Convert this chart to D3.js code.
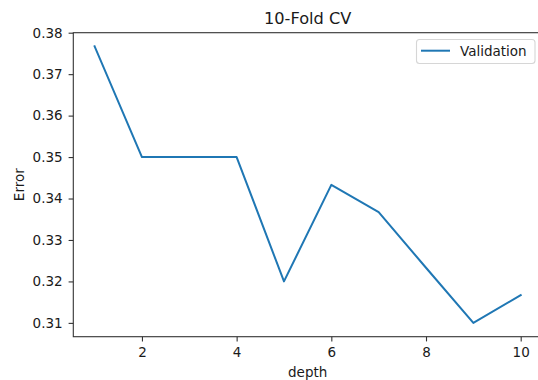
<!DOCTYPE html>
<html>
<head>
<meta charset="utf-8">
<script src="https://cdn.jsdelivr.net/npm/d3@7"></script>
<style>
  html, body { margin: 0; padding: 0; background: #fff; }
  svg { display: block; }
  text { font-family: "DejaVu Sans", sans-serif; fill: #1a1a1a; }
</style>
</head>
<body>
<svg id="chart" width="538" height="380"></svg>
<script>
const depths = [1, 2, 3, 4, 5, 6, 7, 8, 9, 10];
const validationError = [0.3767, 0.35, 0.35, 0.35, 0.32, 0.3433, 0.3367, 0.3233, 0.31, 0.3167];
const xTicks = [2, 4, 6, 8, 10];
const yTicks = [0.31, 0.32, 0.33, 0.34, 0.35, 0.36, 0.37, 0.38];
const titleText = "10-Fold CV";
const xLabel = "depth";
const yLabel = "Error";
const seriesName = "Validation";

const svg = d3.select("#chart");
const plotLeft = 73.3, plotRight = 542, plotTop = 32.7, plotBottom = 336.7;
const fs = 13.5, titleFs = 16.2, tickLen = 4.7;

const x = d3.scaleLinear().domain([0.55, 10.45]).range([plotLeft, plotRight]);
const y = d3.scaleLinear().domain([0.306667, 0.38]).range([plotBottom, plotTop]);

// Line
const line = d3.line().x((d, i) => x(depths[i])).y(d => y(d));
svg.append("path")
  .datum(validationError)
  .attr("d", line)
  .attr("fill", "none")
  .attr("stroke", "#1f77b4")
  .attr("stroke-width", 2)
  .attr("stroke-linejoin", "round")
  .attr("stroke-linecap", "square");

// Axes
const xAxis = d3.axisBottom(x).tickValues(xTicks).tickFormat(d3.format("d")).tickSize(tickLen).tickPadding(6);
const yAxis = d3.axisLeft(y).tickValues(yTicks).tickFormat(d3.format(".2f")).tickSize(tickLen).tickPadding(6);

const gx = svg.append("g").attr("transform", `translate(0,${plotBottom})`).call(xAxis);
const gy = svg.append("g").attr("transform", `translate(${plotLeft},0)`).call(yAxis);
[gx, gy].forEach(g => {
  g.select(".domain").remove();
  g.selectAll(".tick line").attr("stroke", "#333").attr("stroke-width", 1.1);
  g.selectAll(".tick text").attr("font-size", fs).attr("fill", "#1a1a1a")
    .style("font-family", '"DejaVu Sans", sans-serif');
});

// Spines
svg.append("rect").attr("x", plotLeft).attr("y", plotTop)
  .attr("width", plotRight - plotLeft).attr("height", plotBottom - plotTop)
  .attr("stroke", "#333").attr("stroke-width", 1.1).attr("fill", "none");

// Title
svg.append("text").attr("x", (plotLeft + plotRight) / 2).attr("y", 24)
  .attr("text-anchor", "middle").attr("font-size", titleFs).text(titleText);

// Axis labels
svg.append("text").attr("x", (plotLeft + plotRight) / 2).attr("y", 377)
  .attr("text-anchor", "middle").attr("font-size", fs).text(xLabel);
svg.append("text").attr("transform", `translate(24,${(plotTop + plotBottom) / 2}) rotate(-90)`)
  .attr("text-anchor", "middle").attr("font-size", fs).text(yLabel);

// Legend
const lg = svg.append("g");
lg.append("rect").attr("x", 416.5).attr("y", 39.5).attr("width", 118.5).attr("height", 24)
  .attr("rx", 3).attr("fill", "rgba(255,255,255,0.8)").attr("stroke", "#d6d6d6").attr("stroke-width", 1.1);
lg.append("line").attr("x1", 421).attr("x2", 450).attr("y1", 50.7).attr("y2", 50.7)
  .attr("stroke", "#1f77b4").attr("stroke-width", 2);
lg.append("text").attr("x", 460).attr("y", 55.7).attr("font-size", fs).text(seriesName);
</script>
</body>
</html>
